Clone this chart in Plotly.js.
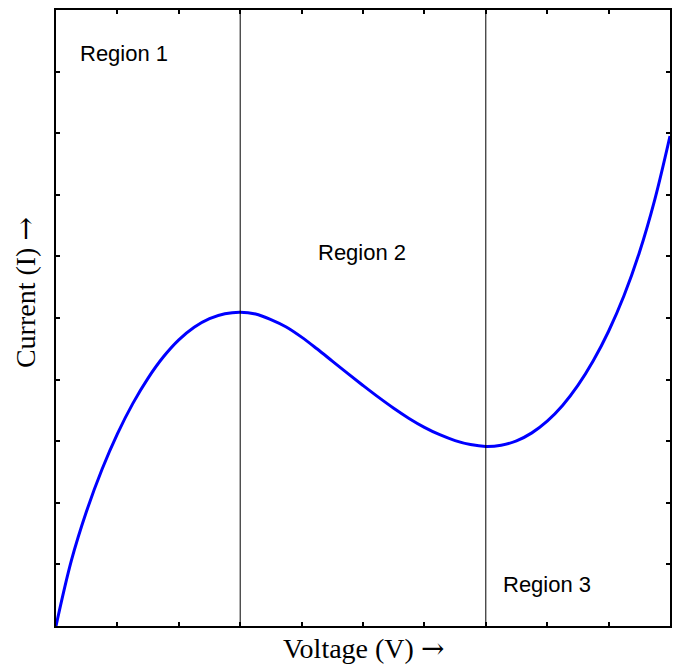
<!DOCTYPE html>
<html>
<head>
<meta charset="utf-8">
<script src="https://cdn.plot.ly/plotly-3.0.1.min.js"></script>
<style>html,body{margin:0;padding:0;background:#fff;}#chart{width:673px;height:664px;}</style>
</head>
<body>
<div id="chart"></div>
<script>
// Data
const voltage = [0, 0.25, 0.5, 0.75, 1, 1.25, 1.5, 1.75, 2, 2.25, 2.5, 2.75, 3, 3.25, 3.5, 3.75, 4, 4.25, 4.5, 4.75, 5, 5.25, 5.5, 5.75, 6, 6.25, 6.5, 6.75, 7, 7.25, 7.5, 7.75, 8, 8.25, 8.5, 8.75, 9, 9.25, 9.5, 9.75, 10];
const current = [0, 1.06, 1.87, 2.545, 3.12, 3.61, 4.025, 4.37, 4.645, 4.85, 4.99, 5.07, 5.095, 5.065, 4.975, 4.855, 4.69, 4.50, 4.30, 4.10, 3.905, 3.715, 3.535, 3.37, 3.225, 3.105, 3.01, 2.945, 2.915, 2.935, 3.005, 3.135, 3.325, 3.58, 3.905, 4.305, 4.785, 5.36, 6.06, 6.915, 7.955];
const regionBoundaries = [3, 7];
const regionLabels = ["Region 1", "Region 2", "Region 3"];
const regionLabelV = [0.36, 4.23, 7.25];
const regionLabelI = [9.3, 6.07, 0.68];
const tickPositions = [0, 1, 2, 3, 4, 5, 6, 7, 8, 9, 10];
const arrow = '<span style="font-family:DejaVu Serif">\u2192</span>';
const xTitle = "Voltage (V) " + arrow;
const yTitle = "Current (I) " + arrow;

const trace = {
  x: voltage, y: current, type: "scatter", mode: "lines",
  line: {color: "#0000ff", width: 3, shape: "spline", smoothing: 1.0},
  hoverinfo: "skip", showlegend: false
};

const axisCommon = {
  range: [0, 10], tickvals: tickPositions, ticks: "inside", ticklen: 4, tickwidth: 2,
  tickcolor: "#000", showticklabels: false, showgrid: false, zeroline: false,
  showline: true, linecolor: "#000", linewidth: 2, mirror: "ticks", fixedrange: true
};

const annotations = regionLabels.map((t, i) => ({
  x: regionLabelV[i], y: regionLabelI[i], xref: "x", yref: "y",
  text: t, showarrow: false, xanchor: "left", yanchor: "middle",
  font: {family: "Liberation Sans, Arial, sans-serif", size: 22, color: "#000"}
}));
annotations.push({
  x: 0.5, y: -0.036, xref: "paper", yref: "paper", text: xTitle, showarrow: false,
  xanchor: "center", yanchor: "middle",
  font: {family: "Liberation Serif, Times New Roman, serif", size: 28, color: "#000"}
});
annotations.push({
  x: -0.0505, y: 0.542, xref: "paper", yref: "paper", text: yTitle, showarrow: false,
  textangle: -90, xanchor: "center", yanchor: "middle",
  font: {family: "Liberation Serif, Times New Roman, serif", size: 28, color: "#000"}
});

const shapes = regionBoundaries.map(v => ({
  type: "line", xref: "x", yref: "paper", x0: v, x1: v, y0: 0, y1: 1,
  line: {color: "#000", width: 1}
}));

const layout = {
  width: 673, height: 664,
  margin: {l: 56, r: 3, t: 10, b: 38},
  paper_bgcolor: "#fff", plot_bgcolor: "#fff",
  xaxis: Object.assign({}, axisCommon),
  yaxis: Object.assign({}, axisCommon),
  annotations: annotations, shapes: shapes, showlegend: false
};

Plotly.newPlot("chart", [trace], layout, {displayModeBar: false, staticPlot: true});
</script>
</body>
</html>
